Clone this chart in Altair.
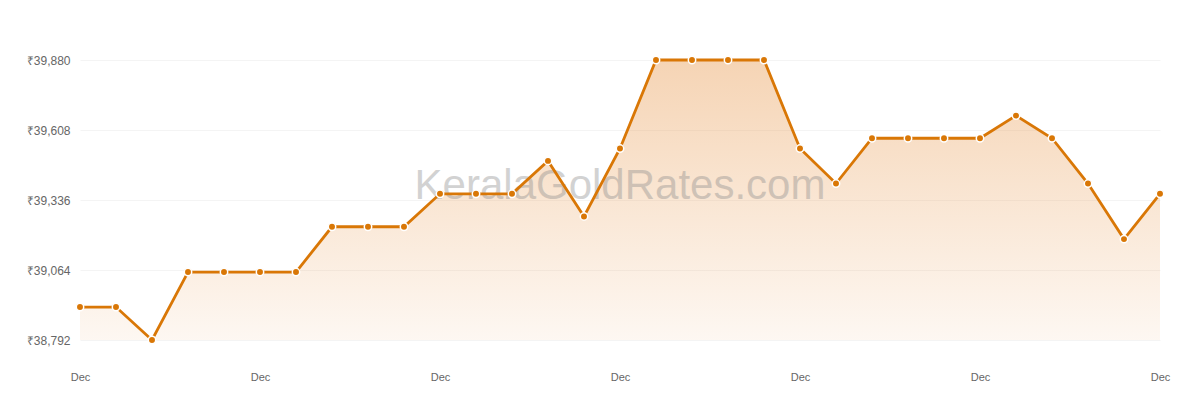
import altair as alt
import pandas as pd

days = list(range(1, 32))
prices = [38920, 38920, 38792, 39056, 39056, 39056, 39056, 39232, 39232, 39232,
          39360, 39360, 39360, 39488, 39272, 39536, 39880, 39880, 39880, 39880,
          39536, 39400, 39576, 39576, 39576, 39576, 39664, 39576, 39400, 39184,
          39360]
y_ticks = [38792, 39064, 39336, 39608, 39880]
x_tick_days = [1, 6, 11, 16, 21, 26, 31]
watermark = "KeralaGoldRates.com"

df = pd.DataFrame({"day": days, "price": prices})

LINE = "#d97706"
FONT = "Liberation Sans"

x_enc = alt.X("day:Q",
              scale=alt.Scale(domain=[1, 31], nice=False, zero=False),
              axis=alt.Axis(values=x_tick_days, labelExpr="'Dec'", title=None,
                            grid=False, domain=False, ticks=False,
                            labelFlush=False, labelAlign="center", labelOverlap=False,
                            labelPadding=31, labelFontSize=11, labelColor="#666",
                            labelFont=FONT))
y_enc = alt.Y("price:Q",
              scale=alt.Scale(domain=[38792, 39880], nice=False, zero=False),
              axis=alt.Axis(values=y_ticks, labelExpr="'₹' + format(datum.value, ',')",
                            title=None, grid=True, gridColor="#f4f4f4", gridWidth=1,
                            domain=False, ticks=False, labelPadding=10,
                            labelFontSize=12, labelColor="#666", labelFont=FONT))

base = alt.Chart(df)

area = base.mark_area(
    color=alt.Gradient(
        gradient="linear",
        stops=[alt.GradientStop(color="rgba(234,160,90,0.45)", offset=0),
               alt.GradientStop(color="rgba(234,160,90,0.08)", offset=1)],
        x1=1, x2=1, y1=0, y2=1),
).encode(x=x_enc, y=y_enc, y2=alt.datum(38792))

text = alt.Chart(pd.DataFrame({"t": [watermark]})).mark_text(
    fontSize=42, font=FONT, color="#8a8a8a", opacity=0.38, align="center", baseline="middle"
).encode(x=alt.value(540), y=alt.value(126), text="t:N")

line = base.mark_line(color=LINE, strokeWidth=2.8).encode(x=x_enc, y=y_enc)

points = base.mark_point(filled=True, fill=LINE, stroke="white", strokeWidth=1.5,
                         size=55, opacity=1).encode(x=x_enc, y=y_enc)

chart = alt.layer(area, text, line, points).properties(
    width=1080, height=280,
    background="white",
    autosize=alt.AutoSizeParams(type="none"),
    padding={"left": 72, "top": 52, "right": 20, "bottom": 50},
).configure_view(stroke=None)

chart.save("out.html", embed_options={"renderer": "svg", "actions": False})
